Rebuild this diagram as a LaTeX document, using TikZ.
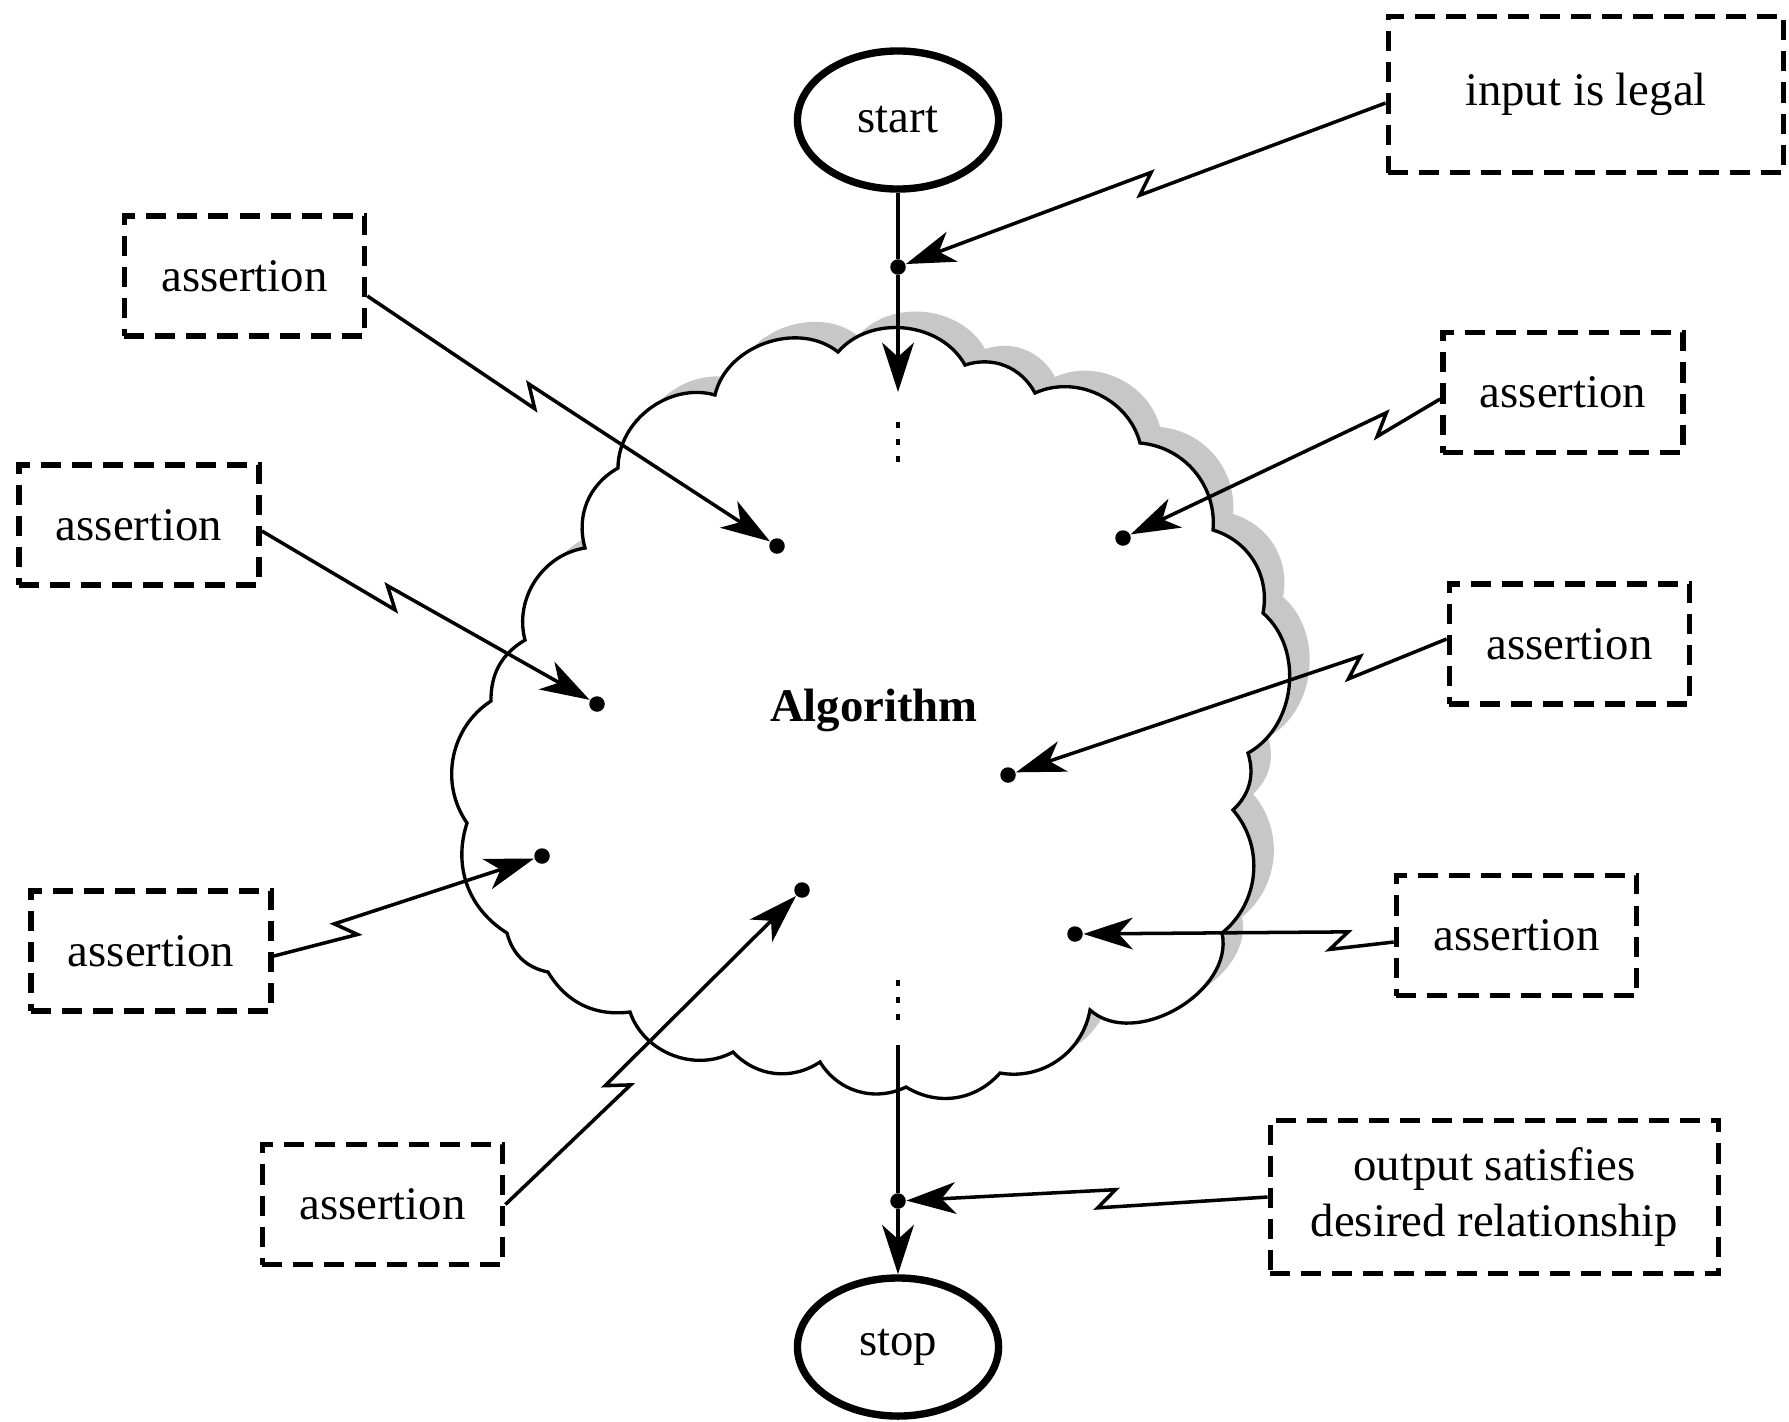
\documentclass[tikz,border=0pt]{standalone}
\usepackage{fontspec}
\setmainfont{Liberation Serif}
\usetikzlibrary{arrows.meta,shapes.geometric,calc}

% outline of the algorithm cloud (clockwise, one puff per segment)
\newcommand\algcloud{(467,-823)
  to[bend left=46] (491,-701)
  to[bend left=30] (525,-640)
  to[bend left=48] (585,-548)
  to[bend left=38] (618,-468)
  to[bend left=53] (715,-395)
  to[bend left=58] (838,-352)
  to[bend left=55] (965,-365)
  to[bend left=40] (1035,-393)
  to[bend left=50] (1140,-443)
  to[bend left=45] (1213,-530)
  to[bend left=42] (1263,-613)
  to[bend left=55] (1248,-753)
  to[bend left=32] (1233,-810)
  to[bend left=46] (1222,-933)
  to[bend left=72] (1090,-1010)
  to[bend left=45] (1000,-1073)
  to[bend left=40] (906,-1087)
  to[bend left=42] (820,-1062)
  to[bend left=40] (733,-1052)
  to[bend left=50] (630,-1012)
  to[bend left=33] (548,-972)
  to[bend left=32] (507,-933)
  to[bend left=38] (467,-823) -- cycle}

\definecolor{cloudshade}{gray}{0.78}

\tikzset{
  bigtip/.tip={Stealth[length=14pt,width=9pt,inset=4pt]},
  dashbox/.style={draw, line width=1.6pt, dash pattern=on 0.2cm off 0.11cm,
    minimum width=2.40cm, minimum height=1.20cm, inner sep=0pt, align=center},
  terminal/.style={ellipse, draw, line width=2.1pt, minimum width=2.01cm,
    minimum height=1.38cm, inner sep=0pt},
  spot/.style={circle, fill, inner sep=0pt, minimum size=0.155cm},
  flow/.style={line width=1.2pt},
  elide/.style={line width=1.2pt, dash pattern=on 0.06cm off 0.11cm},
  % lightning connector: first leg ends on the left of the line, notch steps back to the right
  boltL/.style={line width=1.0pt, -bigtip, to path={
    -- ($(\tikztostart)!#1!(\tikztotarget)!0.09cm!90:(\tikztotarget)$)
    -- ($(\tikztostart)!#1!(\tikztotarget)!-0.18cm!(\tikztotarget)!0.09cm!-90:(\tikztotarget)$)
    -- (\tikztotarget) \tikztonodes}},
  boltL/.default=0.5,
  % same, mirrored
  boltR/.style={line width=1.0pt, -bigtip, to path={
    -- ($(\tikztostart)!#1!(\tikztotarget)!0.09cm!-90:(\tikztotarget)$)
    -- ($(\tikztostart)!#1!(\tikztotarget)!-0.18cm!(\tikztotarget)!0.09cm!90:(\tikztotarget)$)
    -- (\tikztotarget) \tikztonodes}},
  boltR/.default=0.5,
}

\begin{document}
\begin{tikzpicture}[x=0.01cm, y=0.01cm, font=\fontsize{13.3}{16.2}\selectfont]
\path[use as bounding box, fill=white] (0,0) rectangle (1789,-1421);

% cloud with its shadow
\fill[cloudshade, shift={(20,16)}] \algcloud;
\filldraw[fill=white, line width=0.95pt] \algcloud;

\node (alg) at (874,-710) {\bfseries Algorithm};

% start / stop
\node[terminal] (start) at (898,-120) {start};
\node[terminal] (stop) at (898,-1347) {stop};

% assertion points
\node[spot] (din) at (898,-267) {};
\node[spot] (d1) at (777,-546) {};
\node[spot] (d2) at (597,-704) {};
\node[spot] (d3) at (542,-856) {};
\node[spot] (d4) at (802,-890) {};
\node[spot] (d5) at (1123,-538) {};
\node[spot] (d6) at (1008,-775) {};
\node[spot] (d7) at (1075,-934) {};
\node[spot] (dout) at (898,-1201) {};

% assertion boxes
\node[dashbox, minimum width=3.95cm, minimum height=1.56cm] (inbox) at (1586,-94.5) {input is legal};
\node[dashbox] (as1) at (244.5,-276) {assertion};
\node[dashbox] (as2) at (139,-525) {assertion};
\node[dashbox] (as3) at (151,-951) {assertion};
\node[dashbox] (as4) at (382.5,-1204.5) {assertion};
\node[dashbox] (as5) at (1563,-392.5) {assertion};
\node[dashbox] (as6) at (1569.5,-644) {assertion};
\node[dashbox] (as7) at (1516.5,-935.5) {assertion};
\node[dashbox, minimum width=4.48cm, minimum height=1.53cm] (outbox) at (1494.5,-1197)
  {output satisfies\\desired relationship};

% control flow through the algorithm
\coordinate (topend) at (898,-392);
\coordinate (elideTopA) at (898,-422);
\coordinate (elideTopB) at (898,-463);
\coordinate (elideBotA) at (898,-980);
\coordinate (elideBotB) at (898,-1021);
\coordinate (botstart) at (898,-1045);

\draw[flow] (start) -- (din);
\draw[flow, -bigtip] (din) -- (topend);
\draw[elide] (elideTopA) -- (elideTopB);
\draw[elide] (elideBotA) -- (elideBotB);
\draw[flow] (botstart) -- (dout);
\draw[flow, -bigtip] (dout) -- (stop);

% assertions attached to their points
\draw[boltL=0.51] ([yshift=-0.085cm]inbox.west) to (din);
\draw[boltR=0.42] ([yshift=-0.2cm]as1.east) to (d1);
\draw[boltR=0.41] ([yshift=-0.06cm]as2.east) to (d2);
\draw[boltR=0.30] ([yshift=-0.05cm]as3.east) to (d3);
\draw[boltR=0.40] (as4.east) to (d4);
\draw[boltL=0.21] ([yshift=-0.065cm]as5.west) to (d5);
\draw[boltL=0.23] ([yshift=0.05cm]as6.west) to (d6);
\draw[boltL=0.20] ([yshift=-0.065cm]as7.west) to (d7);
\draw[boltL=0.46] (outbox.west) to (dout);
\end{tikzpicture}
\end{document}
